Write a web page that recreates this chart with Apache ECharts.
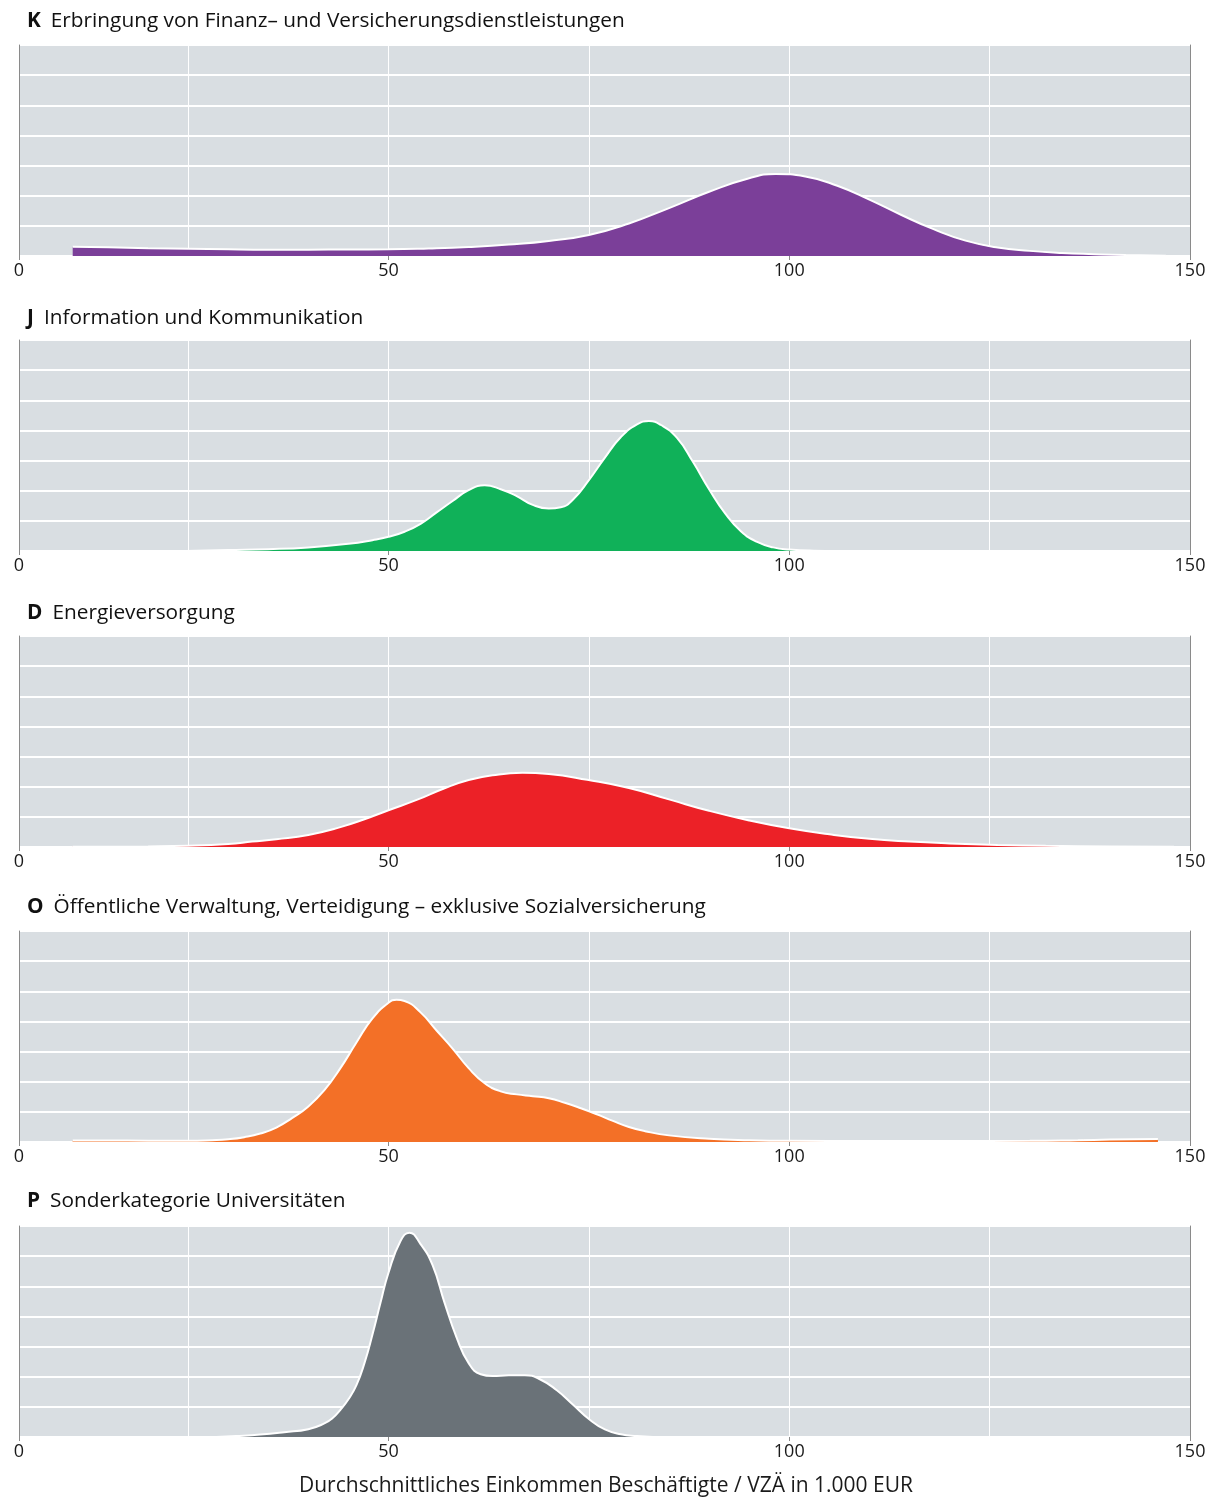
<!DOCTYPE html>
<html>
<head>
<meta charset="utf-8">
<script src="https://cdn.jsdelivr.net/npm/echarts@6/dist/echarts.min.js"></script>
<style>
html,body{margin:0;padding:0;background:#fff;}
#chart{width:1212px;height:1497px;}
</style>
</head>
<body>
<div id="chart"></div>
<script>
// ---- data ----
const X_MIN = 3.9;   // left edge of the plotting area (labelled "0" in the original)
const X_MAX = 150;
const GRID_VALUES = [25, 50, 75, 100, 125, 150];
const TICK_VALUES = [X_MIN, 50, 100, 150];
const TICK_LABELS = ['0', '50', '100', '150'];

const PANEL_CODES = ['K', 'J', 'D', 'O', 'P'];
const PANEL_NAMES = [
  'Erbringung von Finanz\u2013 und Versicherungsdienstleistungen',
  'Information und Kommunikation',
  'Energieversorgung',
  '\u00d6ffentliche Verwaltung, Verteidigung \u2013 exklusive Sozialversicherung',
  'Sonderkategorie Universit\u00e4ten'
];
const PANEL_COLORS = ['#7B3F99', '#10B159', '#EC2127', '#F37027', '#6A7278'];

const K_X = [10.6, 15, 20, 25, 30, 35, 40, 45, 50, 55, 60, 65, 70, 75, 80, 85, 90, 95, 98.3, 102, 106, 110, 114, 118, 122, 126, 130, 134, 138, 142, 147];
const K_Y = [0.31, 0.29, 0.26, 0.24, 0.22, 0.21, 0.21, 0.215, 0.22, 0.25, 0.3, 0.38, 0.5, 0.7, 1.08, 1.59, 2.13, 2.58, 2.72, 2.64, 2.33, 1.87, 1.36, 0.89, 0.51, 0.28, 0.17, 0.1, 0.06, 0.03, 0.01];

const J_X = [24.7, 30, 35, 40, 45, 48, 50, 52, 54, 56, 58, 60, 62, 64, 66, 68, 70, 71.5, 73, 75, 77, 79, 81, 82.5, 84, 86, 88, 90, 92, 94, 96, 98, 100, 103, 106];
const J_Y = [0, 0.03, 0.06, 0.12, 0.24, 0.36, 0.47, 0.64, 0.9, 1.28, 1.66, 2.02, 2.18, 2.05, 1.82, 1.53, 1.41, 1.45, 1.7, 2.35, 3.1, 3.78, 4.2, 4.31, 4.18, 3.75, 2.95, 2.05, 1.25, 0.65, 0.3, 0.12, 0.05, 0.01, 0];

const D_X = [10.6, 20, 25, 30, 33, 36, 40, 44, 47, 50, 53.6, 57, 60, 63, 66.7, 70, 74.8, 80, 85, 90, 95, 100, 105, 110, 115, 120, 126, 132, 140, 148];
const D_Y = [0.01, 0.02, 0.04, 0.1, 0.18, 0.26, 0.4, 0.66, 0.92, 1.22, 1.57, 1.95, 2.22, 2.38, 2.46, 2.42, 2.23, 1.96, 1.58, 1.2, 0.88, 0.62, 0.42, 0.27, 0.18, 0.12, 0.07, 0.04, 0.02, 0.005];

const O_X = [10.6, 15, 20, 25, 28, 30, 32, 34, 36, 38, 40, 42, 44, 46, 48, 50, 51, 52, 54, 56, 58, 60, 62, 64, 66, 68, 70, 72, 74, 76, 78, 80, 82, 85, 90, 95, 100, 110, 120, 130, 136, 140, 146];
const O_Y = [0.05, 0.05, 0.045, 0.04, 0.06, 0.09, 0.16, 0.28, 0.48, 0.8, 1.18, 1.72, 2.45, 3.3, 4.1, 4.62, 4.72, 4.68, 4.3, 3.7, 3.1, 2.45, 1.95, 1.68, 1.58, 1.52, 1.45, 1.3, 1.12, 0.92, 0.7, 0.5, 0.36, 0.22, 0.11, 0.06, 0.04, 0.035, 0.035, 0.04, 0.06, 0.08, 0.1];

const P_X = [28.5, 31, 34, 37, 40, 42, 43, 44, 45, 46, 47, 48, 49, 50, 51.5, 52.6, 54, 55.5, 57, 58.5, 60, 61.5, 63, 65, 67, 69, 71, 73, 75, 77, 79, 81, 83];
const P_Y = [0, 0.03, 0.08, 0.16, 0.26, 0.45, 0.62, 0.9, 1.25, 1.72, 2.45, 3.4, 4.45, 5.45, 6.5, 6.78, 6.4, 5.7, 4.45, 3.3, 2.45, 2.08, 2.02, 2.05, 2.05, 1.9, 1.55, 1.08, 0.6, 0.25, 0.09, 0.03, 0];

const PANEL_X = [K_X, J_X, D_X, O_X, P_X];
const PANEL_Y = [K_Y, J_Y, D_Y, O_Y, P_Y];
const X_AXIS_NAME = 'Durchschnittliches Einkommen Besch\u00e4ftigte / VZ\u00c4 in 1.000 EUR';

// ---- layout ----
const FONT = '"Open Sans", Lato, sans-serif';
const GRID_LEFT = 19, GRID_RIGHT = 22, GRID_H = 211;
const BOTTOMS = [256, 551, 847, 1142, 1437];
const TITLE_CENTERS = [20, 317, 612, 906, 1200];

const grids = [], xAxes = [], yAxes = [], series = [], titles = [];
PANEL_CODES.forEach((code, i) => {
  grids.push({
    left: GRID_LEFT, right: GRID_RIGHT,
    top: BOTTOMS[i] - GRID_H, height: GRID_H,
    backgroundColor: '#D9DEE2', show: true, borderWidth: 0
  });
  // data axis: carries the vertical grid lines
  xAxes.push({
    type: 'value', gridIndex: i, min: X_MIN, max: X_MAX, position: 'bottom',
    axisLine: { show: false },
    axisTick: { show: false, customValues: GRID_VALUES },
    axisLabel: { show: false },
    splitLine: { show: true, lineStyle: { color: '#ffffff', width: 1 } }
  });
  // label axis: ticks and labels
  xAxes.push({
    type: 'value', gridIndex: i, min: X_MIN, max: X_MAX, position: 'bottom',
    axisLine: { show: false },
    axisTick: { show: true, length: 4, customValues: TICK_VALUES, lineStyle: { color: '#8a8a8a', width: 1 } },
    axisLabel: {
      show: true, customValues: TICK_VALUES, margin: 6,
      color: '#1a1a1a', fontFamily: FONT, fontSize: 18,
      formatter: (v) => {
        let best = 0;
        TICK_VALUES.forEach((t, k) => { if (Math.abs(t - v) < Math.abs(TICK_VALUES[best] - v)) best = k; });
        return TICK_LABELS[best];
      }
    },
    splitLine: { show: false }
  });
  yAxes.push({
    type: 'value', gridIndex: i, min: 0, max: 7, interval: 1, position: 'left',
    axisLine: { show: true, lineStyle: { color: '#8a8a8a', width: 1 } },
    axisTick: { show: false }, axisLabel: { show: false },
    splitLine: { show: true, lineStyle: { color: '#ffffff', width: 2 } }
  });
  yAxes.push({
    type: 'value', gridIndex: i, min: 0, max: 7, interval: 1, position: 'right',
    axisLine: { show: true, lineStyle: { color: '#8a8a8a', width: 1 } },
    axisTick: { show: false }, axisLabel: { show: false },
    splitLine: { show: false }
  });
  series.push({
    type: 'line', name: code,
    xAxisIndex: 2 * i, yAxisIndex: 2 * i,
    data: PANEL_X[i].map((x, k) => [x, PANEL_Y[i][k]]),
    smooth: 0.5,
    symbol: 'none', silent: true,
    lineStyle: { color: '#ffffff', width: 2 },
    areaStyle: { color: PANEL_COLORS[i], opacity: 1 },
    itemStyle: { color: PANEL_COLORS[i] }
  });
  titles.push({
    text: '{b|' + code + '}  {t|' + PANEL_NAMES[i] + '}',
    left: 27, top: TITLE_CENTERS[i] - 9, padding: 0,
    textStyle: {
      rich: {
        b: { fontFamily: FONT, fontSize: 20.8, fontWeight: 'bold', color: '#111' },
        t: { fontFamily: FONT, fontSize: 20.8, fontWeight: 'normal', color: '#111' }
      }
    }
  });
});

const chart = echarts.init(document.getElementById('chart'), null, { renderer: 'canvas' });
chart.setOption({
  animation: false,
  backgroundColor: '#ffffff',
  title: titles,
  grid: grids,
  xAxis: xAxes,
  yAxis: yAxes,
  series: series,
  graphic: [{
    type: 'text', left: 'center', top: 1476,
    style: { text: X_AXIS_NAME, fontFamily: FONT, fontSize: 21, fill: '#1a1a1a' }
  }]
});
</script>
</body>
</html>
